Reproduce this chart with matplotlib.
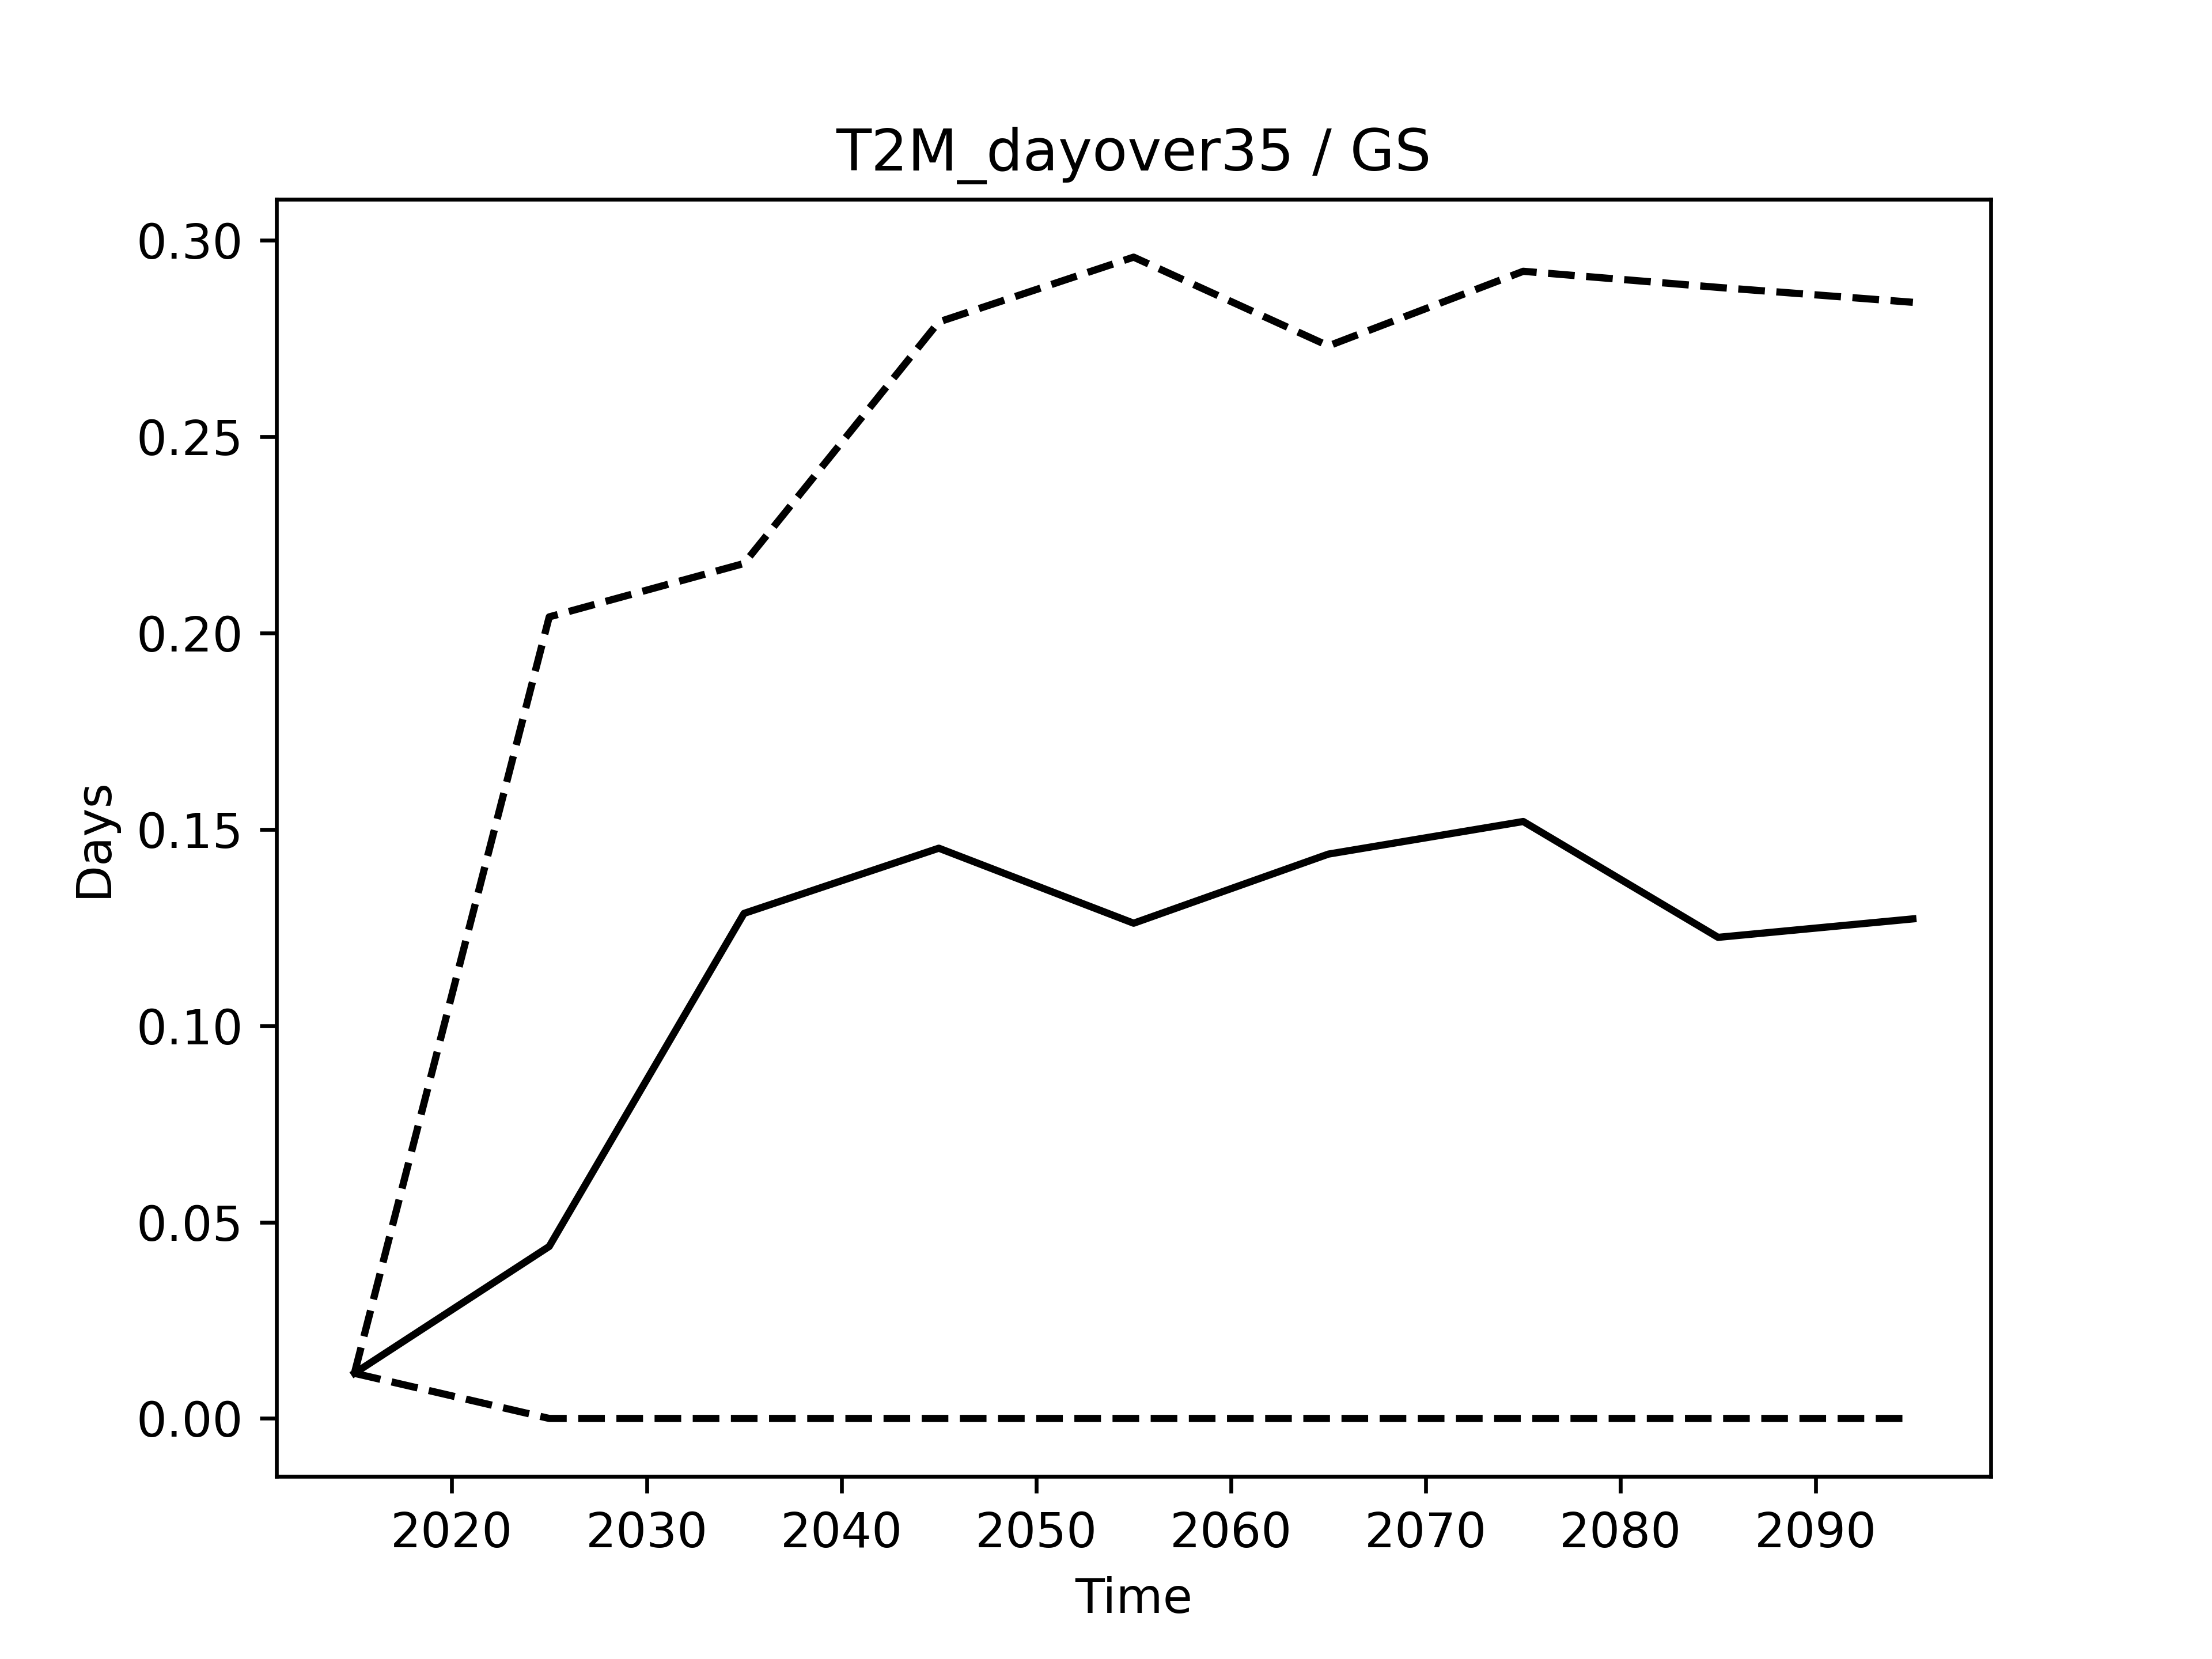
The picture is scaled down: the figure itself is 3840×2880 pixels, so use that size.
import matplotlib
matplotlib.use("Agg")
import matplotlib.pyplot as plt

years = [2015, 2025, 2035, 2045, 2055, 2065, 2075, 2085, 2095]
mean_days = [0.0115, 0.0438, 0.1286, 0.1452, 0.1261, 0.1437, 0.1520, 0.1225, 0.1272]
upper_days = [0.0115, 0.2041, 0.2177, 0.2792, 0.2957, 0.2731, 0.2921, 0.2880, 0.2842]
lower_days = [0.0115, 0.0, 0.0, 0.0, 0.0, 0.0, 0.0, 0.0, 0.0]

fig, ax = plt.subplots(figsize=(6.4, 4.8))
ax.plot(years, mean_days, color='k')
ax.plot(years, upper_days, color='k', linestyle='--')
ax.plot(years, lower_days, color='k', linestyle='--')

ax.set_title('T2M_dayover35 / GS')
ax.set_xlabel('Time')
ax.set_ylabel('Days')

fig.savefig('out.png', dpi=600)
